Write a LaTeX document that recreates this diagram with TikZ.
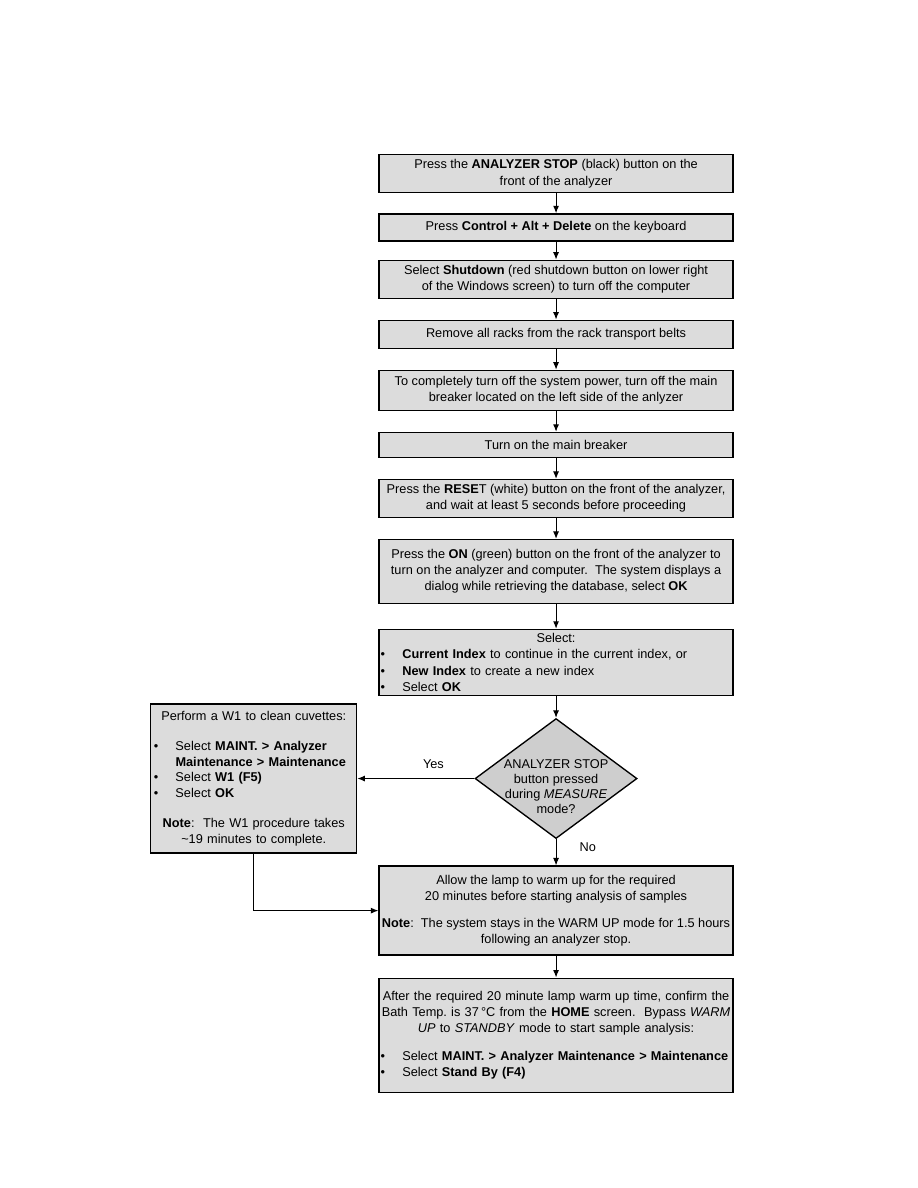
\documentclass[tikz,border=0pt]{standalone}
\usepackage{fontspec}
\setmainfont{Liberation Sans}
\usepackage{tikz}
\usetikzlibrary{arrows.meta,positioning,shapes.geometric}
\definecolor{boxgray}{RGB}{220,220,220}
\definecolor{diagray}{RGB}{206,206,206}
\newcommand{\bitem}[1]{\makebox[\hsize][l]{\makebox[14.5pt][l]{\textbullet}#1}}
\newcommand{\bcont}[1]{\makebox[\hsize][l]{\hspace*{14.5pt}#1}}

\begin{document}
\begin{tikzpicture}[>=Latex, node distance=13.8pt and 78pt,
  every node/.style={font=\fontsize{8.5}{10.7}\selectfont},
  stepbox/.style={draw,line width=0.9pt,fill=boxgray,minimum width=236pt,inner xsep=1pt,align=center},
  listbox/.style={stepbox,text width=234pt,inner xsep=1pt,inner ysep=1pt},
  decision/.style={draw,line width=0.9pt,fill=diagray,diamond,minimum width=108pt,minimum height=80pt,inner sep=0pt},
  arr/.style={-{Latex[length=5pt,width=4pt]},line width=0.7pt}]
\useasboundingbox (0,0) rectangle (612pt,-792pt);
\node[stepbox,minimum height=24.7pt,anchor=north] (stop) at (370.7pt,-102.7pt) {Press the \textbf{ANALYZER STOP} (black) button on the\\front of the analyzer};
\node[stepbox,minimum height=18pt,below=13.3pt of stop] (keys) {Press \textbf{Control + Alt + Delete} on the keyboard};
\node[stepbox,minimum height=24.7pt,below=12pt of keys] (shut) {Select \textbf{Shutdown} (red shutdown button on lower right\\of the Windows screen) to turn off the computer};
\node[stepbox,minimum height=18.7pt,below=of shut] (racks) {Remove all racks from the rack transport belts};
\node[stepbox,minimum height=26.7pt,below=of racks] (off) {To completely turn off the system power, turn off the main\\breaker located on the left side of the anlyzer};
\node[stepbox,minimum height=16.7pt,below=of off] (on) {Turn on the main breaker};
\node[stepbox,minimum height=25.3pt,below=of on] (reset) {Press the \textbf{RESE}T (white) button on the front of the analyzer,\\and wait at least 5 seconds before proceeding};
\node[stepbox,minimum height=42.7pt,below=of reset] (power) {Press the \textbf{ON} (green) button on the front of the analyzer to\\turn on the analyzer and computer.\ \ The system displays a\\dialog while retrieving the database, select \textbf{OK}};
\node[listbox,minimum height=44pt,below=16.3pt of power] (index) {Select:\\
  \bitem{\textbf{Current Index} to continue in the current index, or}\\
  \bitem{\textbf{New Index} to create a new index}\\
  \bitem{Select \textbf{OK}}};
\node[decision,below=14.5pt of index,label={[align=center,yshift=-5.5pt,font=\fontsize{8.5}{10}\selectfont]center:ANALYZER STOP\\button pressed\\during \textit{MEASURE}\\mode?}] (stopq) {};
\node[listbox,minimum width=0pt,text width=133.3pt,inner xsep=2pt,minimum height=99.3pt,left=of stopq,font=\fontsize{8.5}{10.3}\selectfont] (wone) {Perform a W1 to clean cuvettes:\\[10pt]
  \bitem{Select \textbf{MAINT. > Analyzer}}\\
  \bcont{\textbf{Maintenance > Maintenance}}\\
  \bitem{Select \textbf{W1 (F5)}}\\
  \bitem{Select \textbf{OK}}\\[10pt]
  \textbf{Note}:\ \ The W1 procedure takes\\\textasciitilde19 minutes to complete.};
\node[stepbox,minimum height=59.3pt,below=17.5pt of stopq] (warm) {Allow the lamp to warm up for the required\\20 minutes before starting analysis of samples\\[7pt]
  \textbf{Note}:\ \ The system stays in the WARM UP mode for 1.5 hours\\following an analyzer stop.};
\node[listbox,minimum height=76pt,below=14.5pt of warm] (standby) {After the required 20 minute lamp warm up time, confirm the\\Bath Temp.\ is 37\,°C from the \textbf{HOME} screen.\ \ Bypass \textit{WARM}\\\textit{UP} to \textit{STANDBY} mode to start sample analysis:\\[8pt]
  \bitem{Select \textbf{MAINT. > Analyzer Maintenance > Maintenance}}\\
  \bitem{Select \textbf{Stand By (F4)}}};
\draw[arr] (stop) -- (keys);
\draw[arr] (keys) -- (shut);
\draw[arr] (shut) -- (racks);
\draw[arr] (racks) -- (off);
\draw[arr] (off) -- (on);
\draw[arr] (on) -- (reset);
\draw[arr] (reset) -- (power);
\draw[arr] (power) -- (index);
\draw[arr] (index) -- (stopq);
\draw[arr] (stopq) -- node[above,pos=0.35,yshift=3pt]{Yes} (wone);
\draw[arr] (stopq) -- node[right,pos=0.3,xshift=12pt]{No} (warm);
\draw[arr] (wone) |- (warm);
\draw[arr] (warm) -- (standby);
\end{tikzpicture}
\end{document}
